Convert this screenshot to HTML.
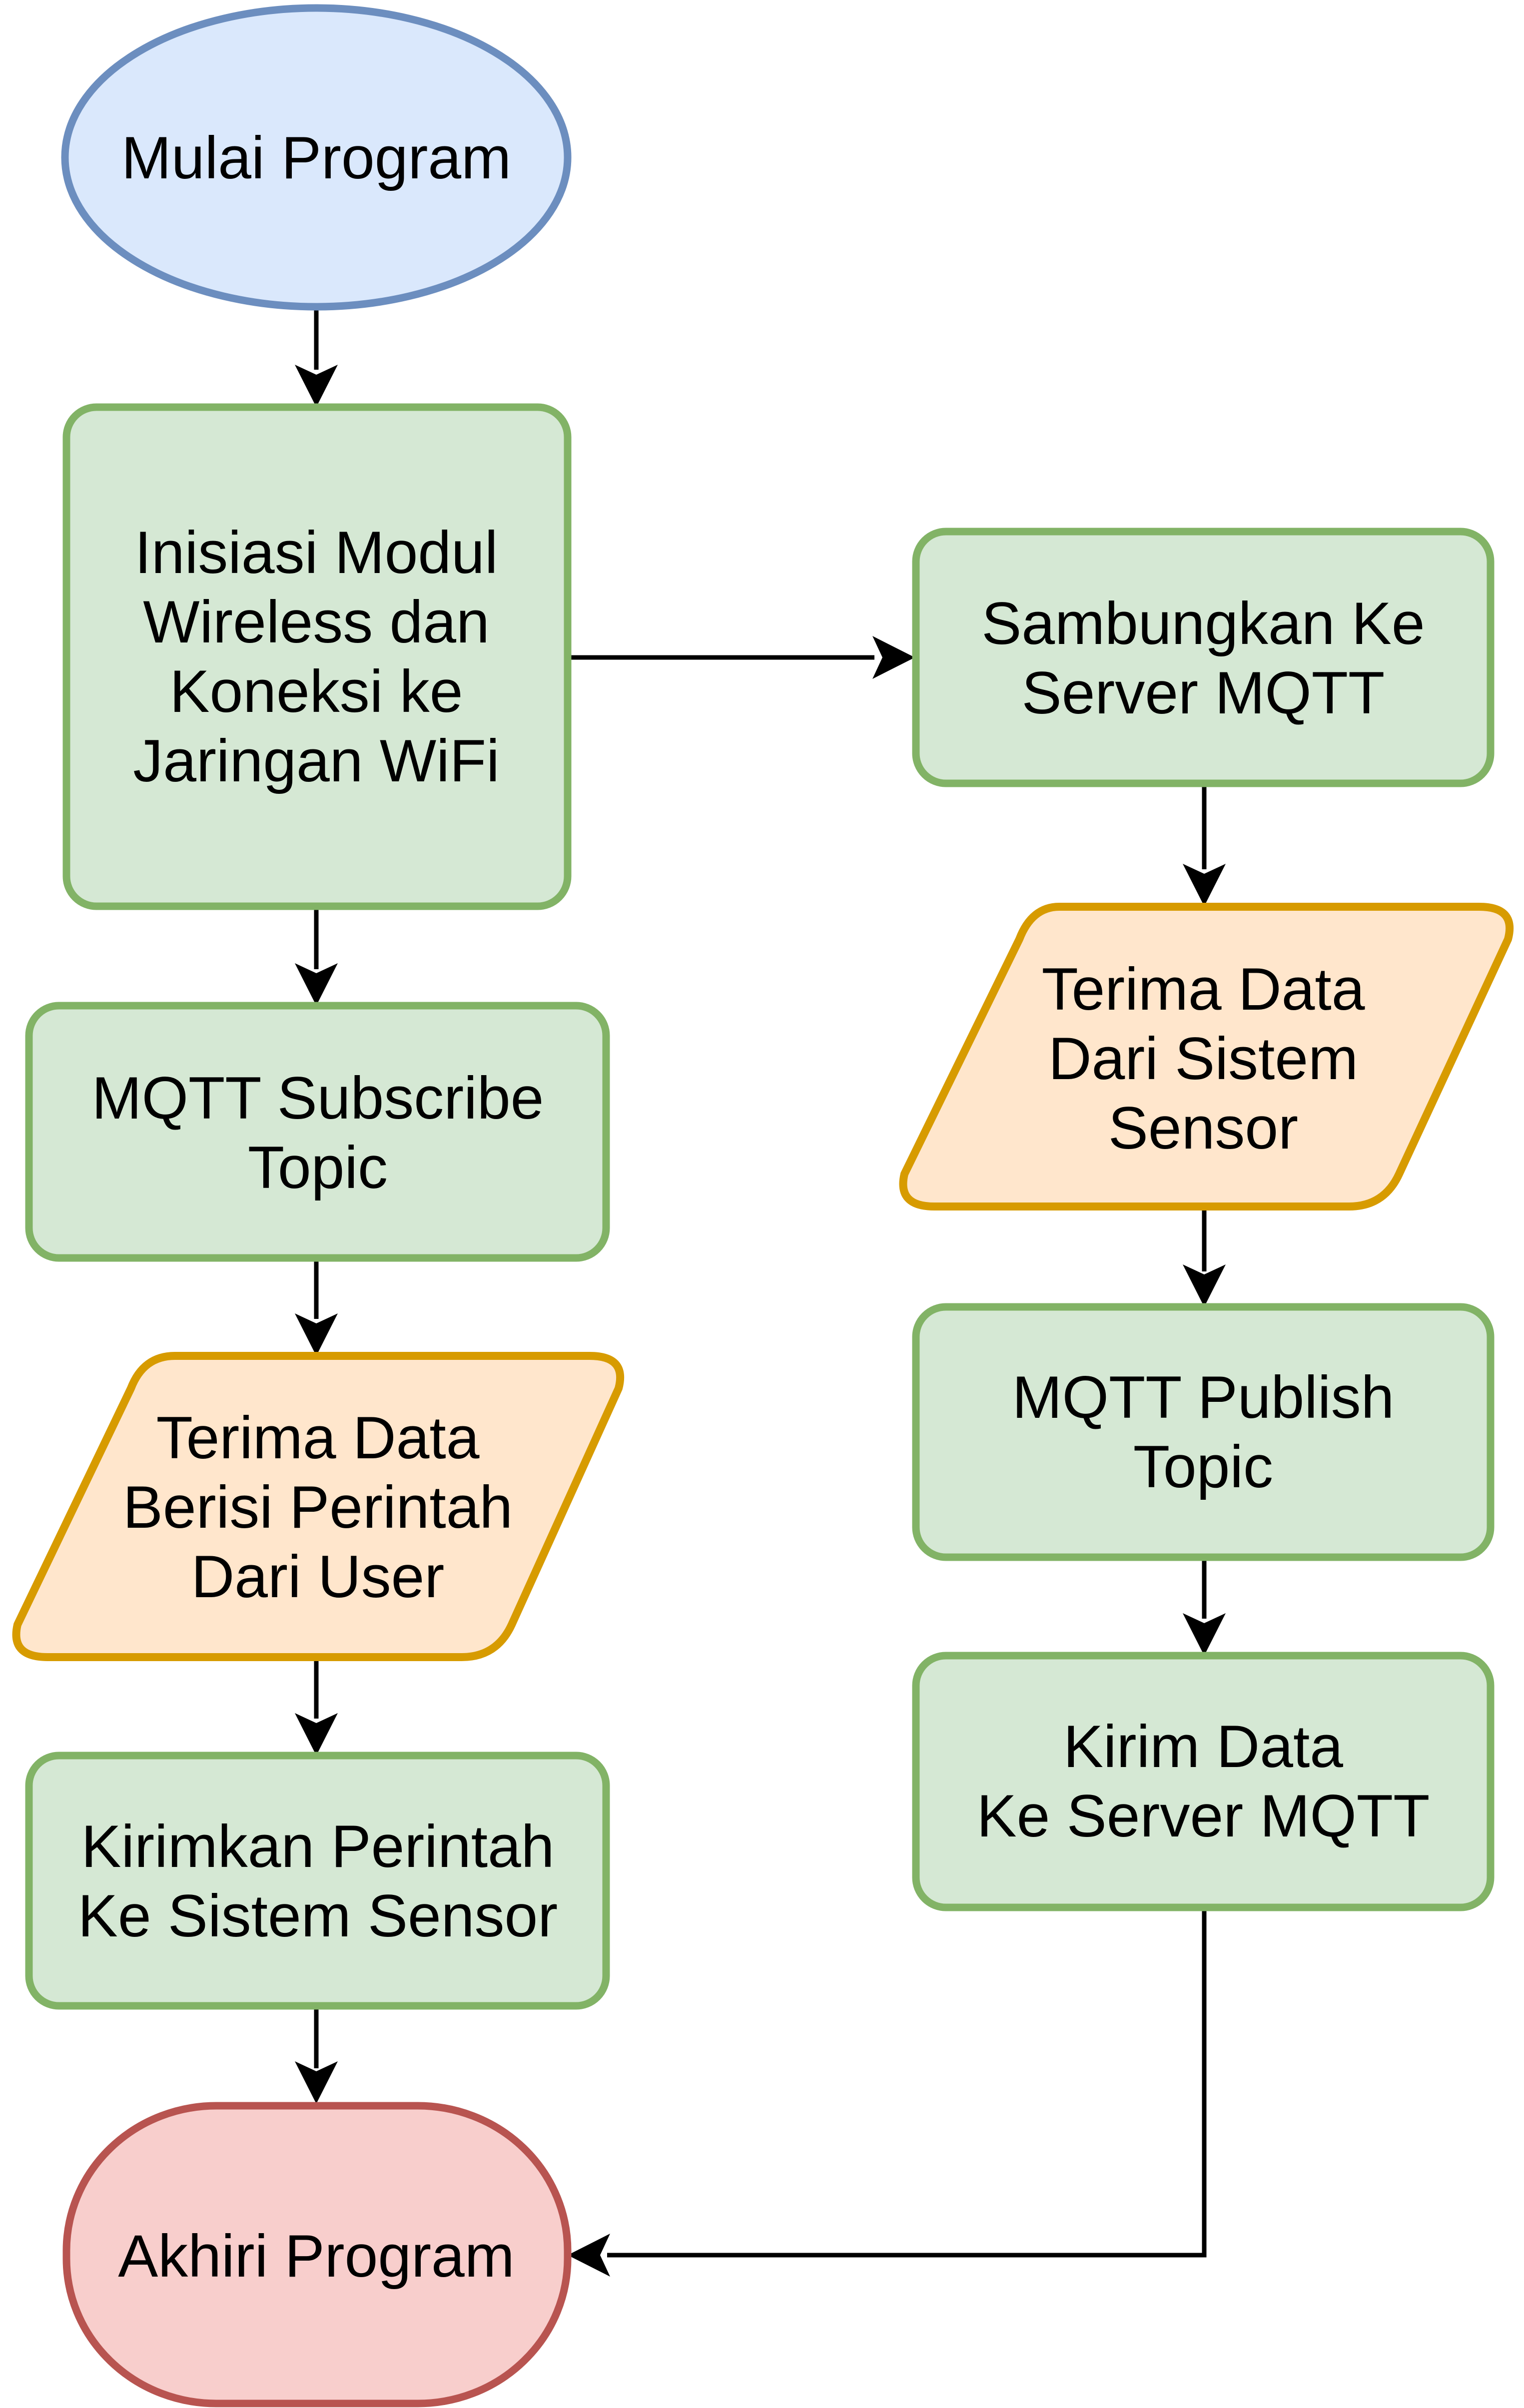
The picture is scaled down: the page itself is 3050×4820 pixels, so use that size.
<!DOCTYPE html>
<html><head><meta charset="utf-8"><style>
html,body{margin:0;padding:0;background:#fff;}
svg{display:block;}
text{font-family:"Liberation Sans",Arial,sans-serif;font-size:120px;fill:#000;text-anchor:middle;}
</style></head><body>
<svg width="3050" height="4820" viewBox="0 0 3050 4820" xmlns="http://www.w3.org/2000/svg">
<g stroke="#000" stroke-width="9" fill="none">
<line x1="633" y1="615" x2="633" y2="740"/>
<line x1="1136" y1="1316" x2="1750" y2="1316"/>
<line x1="2410" y1="1568" x2="2410" y2="1740"/>
<line x1="633" y1="1814" x2="633" y2="1940"/>
<line x1="633" y1="2518" x2="633" y2="2640"/>
<line x1="2410" y1="2416" x2="2410" y2="2545"/>
<line x1="633" y1="3317" x2="633" y2="3440"/>
<line x1="2410" y1="3117" x2="2410" y2="3240"/>
<line x1="633" y1="4015" x2="633" y2="4140"/>
<polyline points="2410,3818 2410,4514 1215,4514"/>
</g>
<g fill="#000">
<path d="M633,815 L590,730 L633,750 L676,730 Z"/>
<path d="M1831,1316 L1746,1273 L1766,1316 L1746,1359 Z"/>
<path d="M2410,1814 L2367,1729 L2410,1749 L2453,1729 Z"/>
<path d="M633,2013 L590,1928 L633,1948 L676,1928 Z"/>
<path d="M633,2714 L590,2629 L633,2649 L676,2629 Z"/>
<path d="M2410,2616 L2367,2531 L2410,2551 L2453,2531 Z"/>
<path d="M633,3514 L590,3429 L633,3449 L676,3429 Z"/>
<path d="M2410,3314 L2367,3229 L2410,3249 L2453,3229 Z"/>
<path d="M633,4211 L590,4126 L633,4146 L676,4126 Z"/>
<path d="M1136,4514 L1221,4471 L1201,4514 L1221,4557 Z"/>
</g>
<ellipse cx="633" cy="315" rx="503" ry="299" fill="#dae8fc" stroke="#6c8ebf" stroke-width="15"/>
<g fill="#d5e8d4" stroke="#82b366" stroke-width="15">
<rect x="133" y="815" width="1003" height="999" rx="60"/>
<rect x="1833" y="1064" width="1150" height="504" rx="60"/>
<rect x="58" y="2013" width="1155" height="505" rx="60"/>
<rect x="1833" y="2616" width="1150" height="501" rx="60"/>
<rect x="58" y="3514" width="1155" height="501" rx="60"/>
<rect x="1833" y="3314" width="1150" height="504" rx="60"/>
</g>
<g fill="#ffe6cc" stroke="#d79b00" stroke-width="16" stroke-linejoin="round">
<path d="M2120,1815 L2960,1815 Q3035,1815 3018,1880 L2800,2350 Q2770,2415 2700,2415 L1870,2415 Q1795,2415 1810,2350 L2040,1880 Q2065,1815 2120,1815 Z"/>
<path d="M350,2714 L1180,2714 Q1255,2714 1238,2779 L1024,3252 Q994,3317 924,3317 L95,3317 Q20,3317 35,3252 L262,2779 Q287,2714 350,2714 Z"/>
</g>
<rect x="133" y="4215" width="1003" height="596" rx="300" ry="290" fill="#f8cecc" stroke="#b85450" stroke-width="15"/>
<text x="633" y="357">Mulai Program</text>
<text x="633" y="1147">Inisiasi Modul</text>
<text x="633" y="1286">Wireless dan</text>
<text x="633" y="1425">Koneksi ke</text>
<text x="633" y="1564">Jaringan WiFi</text>
<text x="2408" y="1289">Sambungkan Ke</text>
<text x="2408" y="1428">Server MQTT</text>
<text x="2408" y="2021">Terima Data</text>
<text x="2408" y="2160">Dari Sistem</text>
<text x="2408" y="2299">Sensor</text>
<text x="636" y="2239">MQTT Subscribe</text>
<text x="636" y="2378">Topic</text>
<text x="636" y="2919">Terima Data</text>
<text x="636" y="3058">Berisi Perintah</text>
<text x="636" y="3197">Dari User</text>
<text x="2408" y="2838">MQTT Publish</text>
<text x="2408" y="2977">Topic</text>
<text x="2408" y="3537">Kirim Data</text>
<text x="2408" y="3676">Ke Server MQTT</text>
<text x="636" y="3737">Kirimkan Perintah</text>
<text x="636" y="3876">Ke Sistem Sensor</text>
<text x="633" y="4557">Akhiri Program</text>
</svg>
</body></html>
